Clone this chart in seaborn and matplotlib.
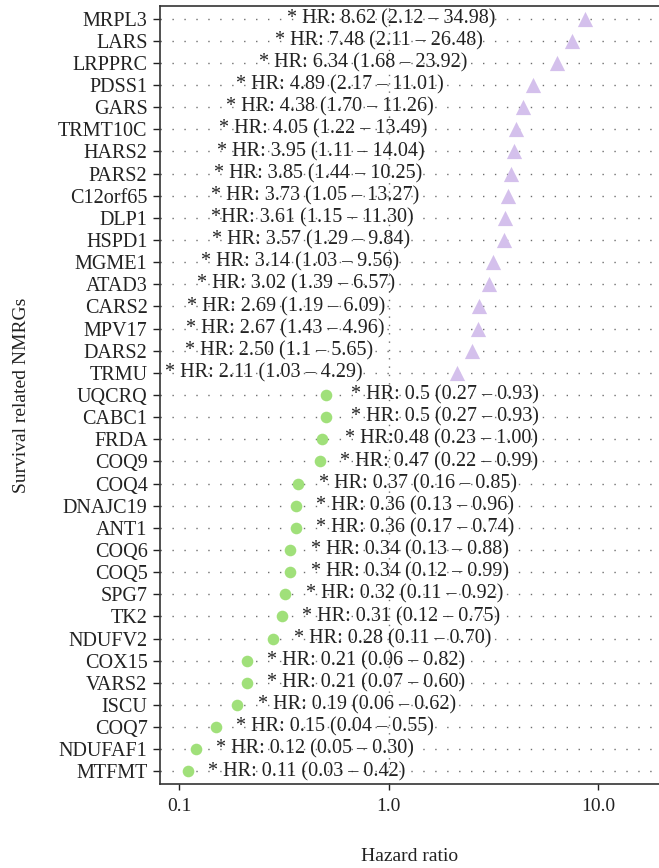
import matplotlib
matplotlib.use("Agg")
import matplotlib.pyplot as plt
import seaborn as sns
import pandas as pd
import numpy as np

genes = ["MRPL3", "LARS", "LRPPRC", "PDSS1", "GARS", "TRMT10C", "HARS2", "PARS2",
         "C12orf65", "DLP1", "HSPD1", "MGME1", "ATAD3", "CARS2", "MPV17", "DARS2",
         "TRMU", "UQCRQ", "CABC1", "FRDA", "COQ9", "COQ4", "DNAJC19", "ANT1", "COQ6",
         "COQ5", "SPG7", "TK2", "NDUFV2", "COX15", "VARS2", "ISCU", "COQ7", "NDUFAF1",
         "MTFMT"]
hr = [8.62, 7.48, 6.34, 4.89, 4.38, 4.05, 3.95, 3.85, 3.73, 3.61, 3.57, 3.14, 3.02,
      2.69, 2.67, 2.50, 2.11, 0.5, 0.5, 0.48, 0.47, 0.37, 0.36, 0.36, 0.34, 0.34,
      0.32, 0.31, 0.28, 0.21, 0.21, 0.19, 0.15, 0.12, 0.11]
hr_labels = [
    "* HR: 8.62 (2.12 – 34.98)", "* HR: 7.48 (2.11 – 26.48)", "* HR: 6.34 (1.68 – 23.92)",
    "* HR: 4.89 (2.17 – 11.01)", "* HR: 4.38 (1.70 – 11.26)", "* HR: 4.05 (1.22 – 13.49)",
    "* HR: 3.95 (1.11 – 14.04)", "* HR: 3.85 (1.44 – 10.25)", "* HR: 3.73 (1.05 – 13.27)",
    "*HR: 3.61 (1.15 – 11.30)", "* HR: 3.57 (1.29 – 9.84)", "* HR: 3.14 (1.03 – 9.56)",
    "* HR: 3.02 (1.39 – 6.57)", "* HR: 2.69 (1.19 – 6.09)", "* HR: 2.67 (1.43 – 4.96)",
    "* HR: 2.50 (1.1 – 5.65)", "* HR: 2.11 (1.03 – 4.29)", "* HR: 0.5 (0.27 – 0.93)",
    "* HR: 0.5 (0.27 – 0.93)", "* HR:0.48 (0.23 – 1.00)", "* HR: 0.47 (0.22 – 0.99)",
    "* HR: 0.37 (0.16 – 0.85)", "* HR: 0.36 (0.13 – 0.96)", "* HR: 0.36 (0.17 – 0.74)",
    "* HR: 0.34 (0.13 – 0.88)", "* HR: 0.34 (0.12 – 0.99)", "* HR: 0.32 (0.11 – 0.92)",
    "* HR: 0.31 (0.12 – 0.75)", "* HR: 0.28 (0.11 – 0.70)", "* HR: 0.21 (0.06 – 0.82)",
    "* HR: 0.21 (0.07 – 0.60)", "* HR: 0.19 (0.06 – 0.62)", "* HR: 0.15 (0.04 – 0.55)",
    "* HR: 0.12 (0.05 – 0.30)", "* HR: 0.11 (0.03 – 0.42)"]
x_ticks = [0.1, 1.0, 10.0]
x_tick_labels = ["0.1", "1.0", "10.0"]

sns.set_style("ticks")
plt.rcParams["font.family"] = ["Liberation Serif", "DejaVu Serif"]

df = pd.DataFrame({"gene": genes, "hr": hr, "label": hr_labels})
df["risk"] = np.where(df["hr"] > 1, "high", "low")

fig = plt.figure(figsize=(6.59, 8.68), dpi=100)
ax = fig.add_axes([160 / 659, 84 / 868, 1 - 160 / 659, (784 - 6) / 868])

# dotted grid
n = len(genes)
for i in range(n):
    ax.axhline(i, color="#6e6e6e", lw=1.0, ls=(0, (1, 7.6)), zorder=0)
ax.axvline(1.0, color="#6e6e6e", lw=1.0, ls=(0, (1, 5)), zorder=0)

palette = {"high": "#D4C0EC", "low": "#A0E07A"}
markers = {"high": "^", "low": "o"}
for risk, s in [("high", 120), ("low", 70)]:
    sub = df[df["risk"] == risk]
    sns.scatterplot(data=sub, x="hr", y="gene", color=palette[risk], marker=markers[risk],
                    s=s, linewidth=0, ax=ax, zorder=3, legend=False)

ax.set_xscale("log")
ax.set_xlim(0.0811, 19.5)
ax.set_ylim(n - 1 + 0.57, -0.57)

for i, row in df.iterrows():
    off = -139 if row["hr"] > 1 else 86
    ax.annotate(row["label"], xy=(row["hr"], i), xytext=(off, 0),
                textcoords="offset points", ha="center", va="center",
                fontsize=14.5, color="#222222", zorder=4)

ax.set_xticks(x_ticks)
ax.set_xticklabels(x_tick_labels)
ax.minorticks_off()
ax.tick_params(axis="x", labelsize=14, length=4, width=1, pad=6, colors="#222222")
ax.tick_params(axis="y", labelsize=14.5, length=5, width=1, pad=4, colors="#222222")
ax.set_xlabel("Hazard ratio", fontsize=14, labelpad=24, color="#222222")
ax.set_ylabel("Survival related NMRGs", fontsize=14, labelpad=20, color="#222222")

for side in ["left", "bottom", "top"]:
    ax.spines[side].set_color("#333333")
    ax.spines[side].set_linewidth(1.2)
ax.spines["right"].set_visible(False)

fig.savefig("out.png", dpi=100)
